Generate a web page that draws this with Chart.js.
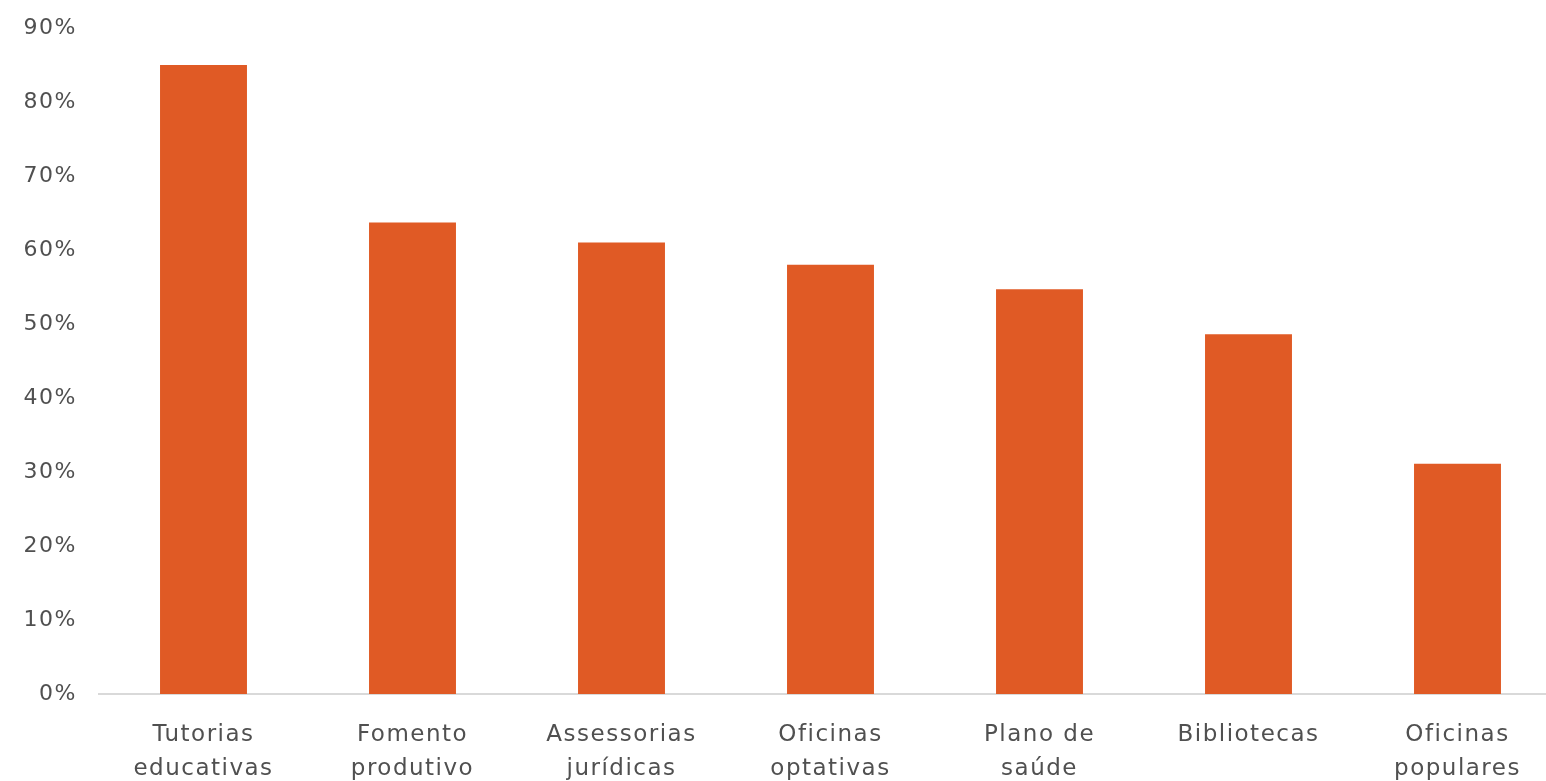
<!DOCTYPE html>
<html>
<head>
<meta charset="utf-8">
<script src="https://cdn.jsdelivr.net/npm/chart.js@4"></script>
<style>
html,body{margin:0;padding:0;background:#fff;overflow:hidden;}
#wrap{position:relative;width:1562px;height:781px;}
</style>
</head>
<body>
<div id="wrap"><canvas id="c"></canvas></div>
<script>
const categories = [
  ["Tutorias", "educativas"],
  ["Fomento", "produtivo"],
  ["Assessorias", "jurídicas"],
  ["Oficinas", "optativas"],
  ["Plano de", "saúde"],
  ["Bibliotecas"],
  ["Oficinas", "populares"]
];
const values = [85, 63.7, 61, 58, 54.7, 48.6, 31.1];
const yTicks = [0, 10, 20, 30, 40, 50, 60, 70, 80, 90];

const FONT = "'DejaVu Sans', sans-serif";

const spacing = {
  id: 'spacing',
  beforeLayout(chart) { chart.ctx.letterSpacing = '1.5px'; },
  beforeDraw(chart) { chart.ctx.letterSpacing = '1.5px'; }
};

new Chart(document.getElementById('c'), {
  type: 'bar',
  data: {
    labels: categories,
    datasets: [{
      data: values,
      backgroundColor: '#E05A25',
      borderWidth: 0,
      categoryPercentage: 1.0,
      barPercentage: 0.416
    }]
  },
  plugins: [spacing],
  options: {
    responsive: true,
    maintainAspectRatio: false,
    animation: false,
    devicePixelRatio: 1,
    layout: { padding: { top: 28, right: 0, bottom: 0, left: 0 } },
    plugins: { legend: { display: false }, tooltip: { enabled: false } },
    scales: {
      x: {
        grid: { display: false, drawTicks: false },
        border: { display: true, color: '#D9D9D9', width: 2 },
        ticks: {
          color: '#505050',
          font: { family: FONT, size: 23, lineHeight: 1.48 },
          padding: 24,
          maxRotation: 0,
          autoSkip: false
        },
        afterFit: (s) => { s.height = 87; s.paddingLeft = 0; s.paddingRight = 0; }
      },
      y: {
        min: 0,
        max: 90,
        afterBuildTicks: (s) => { s.ticks = yTicks.map(v => ({ value: v })); },
        grid: { display: false, drawTicks: false },
        border: { display: false },
        ticks: {
          color: '#505050',
          font: { family: FONT, size: 22 },
          padding: 22,
          callback: (v) => v + '%'
        },
        afterFit: (s) => { s.width = 99; s.paddingTop = 0; s.paddingBottom = 0; }
      }
    }
  }
});
</script>
</body>
</html>
